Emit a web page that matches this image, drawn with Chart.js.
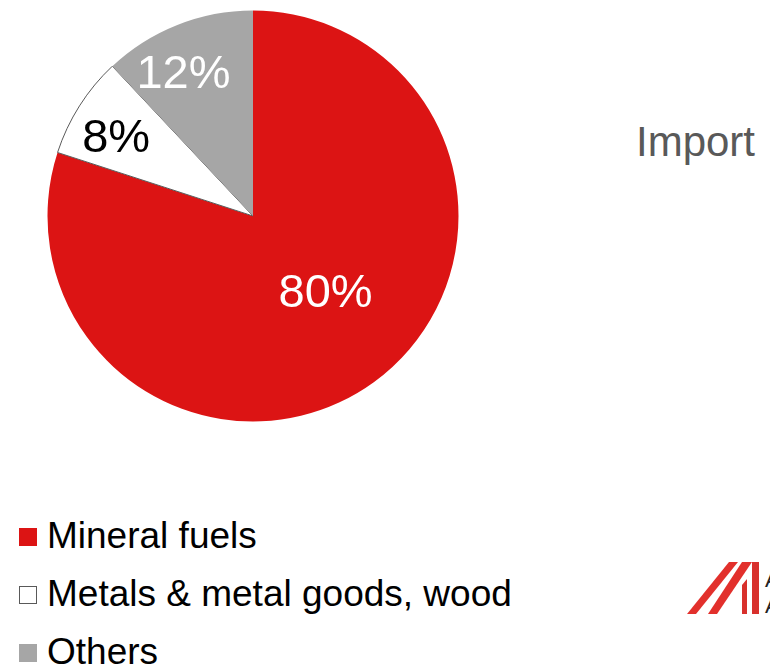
<!DOCTYPE html>
<html>
<head>
<meta charset="utf-8">
<script src="https://cdn.jsdelivr.net/npm/chart.js@4"></script>
<style>
  html, body { margin: 0; padding: 0; background: #fff; width: 770px; height: 664px; overflow: hidden; position: relative; font-family: "Liberation Sans", Arial, sans-serif; }
  #wrap { position: absolute; left: 0; top: 0; width: 506px; height: 432px; }
  #title { position: absolute; left: 636px; top: 118px; font-size: 42px; color: #595959; font-family: "Liberation Sans", Arial, sans-serif; white-space: nowrap; }
  #legend { position: absolute; left: 19px; top: 511px; }
  .item { position: relative; height: 58px; font-size: 37px; color: #000; white-space: nowrap; }
  .box { position: absolute; left: 0; top: 17px; width: 18px; height: 18px; box-sizing: border-box; }
  .txt { position: absolute; left: 28px; top: 4px; line-height: 42px; }
  #logo { position: absolute; left: 680px; top: 550px; }
</style>
</head>
<body>
<div id="wrap"><canvas id="c"></canvas></div>
<div id="title">Import</div>
<div id="legend"></div>
<svg id="logo" width="90" height="70" viewBox="0 0 90 70">
  <polygon points="7,64 16,64 58,12 49,12" fill="#e2302c"/>
  <polygon points="28,64 37,64 72,12 62,12" fill="#e2302c"/>
  <polygon points="62,35 67,29 67,64 62,64" fill="#d8302c"/>
  <polygon points="72,12 79,12 79,64 72,64" fill="#d8302c"/>
  <text x="85" y="37" font-size="22" fill="#222" font-family="Liberation Sans, Arial">A</text>
  <text x="85" y="63" font-size="22" fill="#222" font-family="Liberation Sans, Arial">A</text>
</svg>
<script>
const categories = ["Mineral fuels", "Metals & metal goods, wood", "Others"];
const shares = [80, 8, 12];
const sliceColors = ["#dc1414", "#ffffff", "#a6a6a6"];
const sliceBorderColors = ["#dc1414", "#595959", "#a6a6a6"];
const sliceBorderWidths = [0, 1, 0];
const labelColors = ["#ffffff", "#000000", "#ffffff"];
const labelRadius = [0.51, 0.76, 0.76];
const labelOffsets = [[11, -7], [-5, 7], [-12, 4]];

const pieLabels = {
  id: 'pieLabels',
  afterDatasetsDraw(chart) {
    const ctx = chart.ctx;
    const meta = chart.getDatasetMeta(0);
    ctx.save();
    ctx.font = '47px "Liberation Sans", Arial, sans-serif';
    ctx.textAlign = 'center';
    ctx.textBaseline = 'middle';
    meta.data.forEach((arc, i) => {
      const p = arc.getProps(['x', 'y', 'startAngle', 'endAngle', 'outerRadius'], true);
      const mid = (p.startAngle + p.endAngle) / 2;
      const r = p.outerRadius * labelRadius[i];
      const x = p.x + Math.cos(mid) * r + labelOffsets[i][0];
      const y = p.y + Math.sin(mid) * r + labelOffsets[i][1];
      ctx.fillStyle = labelColors[i];
      ctx.fillText(shares[i] + '%', x, y);
    });
    ctx.restore();
  }
};

new Chart(document.getElementById('c'), {
  type: 'pie',
  data: {
    labels: categories,
    datasets: [{
      data: shares,
      backgroundColor: sliceColors,
      borderColor: sliceBorderColors,
      borderWidth: sliceBorderWidths,
      hoverOffset: 0
    }]
  },
  options: {
    responsive: true,
    maintainAspectRatio: false,
    animation: false,
    events: [],
    layout: { padding: { left: 47, right: 47, top: 10, bottom: 10 } },
    plugins: { legend: { display: false }, tooltip: { enabled: false } }
  },
  plugins: [pieLabels]
});

const legend = document.getElementById('legend');
categories.forEach((name, i) => {
  const item = document.createElement('div');
  item.className = 'item';
  const box = document.createElement('div');
  box.className = 'box';
  box.style.background = sliceColors[i];
  if (sliceColors[i] === '#ffffff') box.style.border = '1.5px solid #595959';
  const t = document.createElement('div');
  t.className = 'txt';
  t.textContent = name;
  item.appendChild(box);
  item.appendChild(t);
  legend.appendChild(item);
});
</script>
</body>
</html>
